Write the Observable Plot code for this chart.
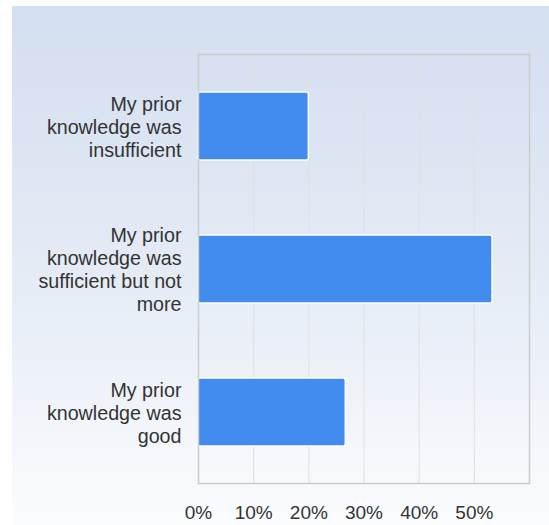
<!DOCTYPE html>
<html><head><meta charset="utf-8">
<script src="https://cdn.jsdelivr.net/npm/d3@7"></script>
<script src="https://cdn.jsdelivr.net/npm/@observablehq/plot@0.6"></script>
<style>
html,body{margin:0;padding:0;background:#fff;width:549px;height:525px;overflow:hidden;}
#bg{position:absolute;left:12px;top:6px;right:0;bottom:0;background:linear-gradient(to bottom,#d3def0 0%,#e4ebf5 50%,#fbfcfe 100%);}
#chart{position:absolute;left:0;top:0;}
</style></head>
<body><div id="bg"></div><div id="chart"></div>
<script>
const categories = [
  "My prior\nknowledge was\ninsufficient",
  "My prior\nknowledge was\nsufficient but not\nmore",
  "My prior\nknowledge was\ngood"
];
const shares = [0.20, 0.533, 0.267];
const xTicks = [0, 0.1, 0.2, 0.3, 0.4, 0.5];
const data = categories.map((c, i) => ({category: c, share: shares[i]}));

const chart = Plot.plot({
  width: 549, height: 525,
  marginLeft: 198, marginRight: 20, marginTop: 54, marginBottom: 42,
  style: {background: "transparent", fontFamily: "'Liberation Sans', Arial, sans-serif", fontSize: "19px", color: "#333"},
  x: {domain: [0, 0.6], ticks: xTicks, tickFormat: d3.format(".0%"), label: null},
  y: {domain: categories, paddingInner: 0.525, paddingOuter: 0.26, align: 0.5, label: null},
  marks: [
    Plot.gridX(xTicks, {stroke: "#e0e0e0", strokeOpacity: 1, strokeWidth: 1}),
    Plot.barX(data, {x: "share", y: "category", fill: "#428bef", stroke: "#ffffff", strokeWidth: 1.5, rx: 2}),
    Plot.frame({stroke: "#cccccc", strokeWidth: 1.5}),
    Plot.axisX({ticks: xTicks, tickFormat: d3.format(".0%"), tickSize: 0, tickPadding: 22, fontSize: 19, fill: "#333", label: null}),
    Plot.axisY({tickSize: 0, tickPadding: 17, fontSize: 19.7, lineHeight: 1.17, fill: "#333", textAnchor: "end", label: null})
  ]
});
document.getElementById("chart").appendChild(chart);
</script></body></html>
